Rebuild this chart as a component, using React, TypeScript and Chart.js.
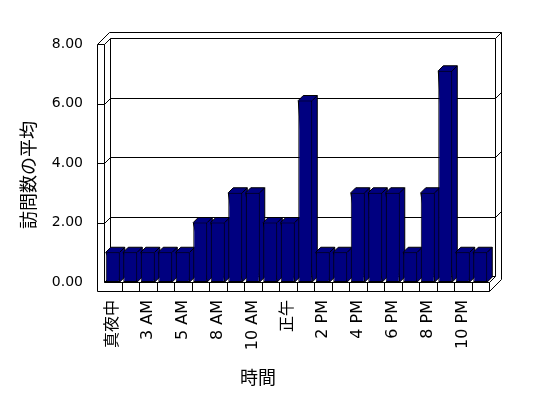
import React, { useEffect, useRef } from 'react';
import { Chart, registerables } from 'chart.js';

Chart.register(...registerables);

// ---- data ----
const categories = [
  '真夜中', '1 AM', '3 AM', '4 AM', '5 AM', '7 AM', '8 AM', '9 AM', '10 AM', '11 AM', '正午',
  '1 PM', '2 PM', '3 PM', '4 PM', '5 PM', '6 PM', '7 PM', '8 PM', '9 PM', '10 PM', '11 PM',
];
const averageVisits = [1, 1, 1, 1, 1, 2, 2, 3, 3, 2, 2, 6.1, 1, 1, 3, 3, 3, 1, 3, 7.1, 1, 1];
const yTickValues = [0, 2, 4, 6, 8];
const yTitle = '訪問数の平均';
const xTitle = '時間';

const FONT = '"DejaVu Sans", "Noto Sans CJK JP", sans-serif';
const CJK = '"Noto Sans CJK JP", "DejaVu Sans", sans-serif';
const NAVY = '#000080';
const WALL = 6; // depth offset of walls
const BAR = 5; // depth offset of bars
const LW = 7; // left wall thickness
const FL = 9; // floor thickness

const p = (v: number) => Math.round(v) + 0.5;

const frame3d = {
  id: 'frame3d',
  beforeDatasetsDraw(chart: any) {
    const { ctx, chartArea } = chart;
    const yS = chart.scales.y;
    const xS = chart.scales.x;
    const L = chartArea.left, R = chartArea.right, T = chartArea.top, Bt = chartArea.bottom;
    const D = WALL;
    ctx.save();
    ctx.lineWidth = 1;
    ctx.strokeStyle = '#000';
    ctx.fillStyle = '#fff';
    const seg = (pts: number[][]) => {
      ctx.beginPath();
      pts.forEach(([a, b], i) => (i ? ctx.lineTo(p(a), p(b)) : ctx.moveTo(p(a), p(b))));
      ctx.stroke();
    };
    // back wall front face
    seg([[L + D, T - D], [R + D, T - D], [R + D, Bt - D], [L + D, Bt - D], [L + D, T - D]]);
    // top outer edge
    seg([[L - LW, T], [L - LW + 2 * D, T - 2 * D], [R + 2 * D, T - 2 * D], [R + 2 * D, Bt - 2 * D + FL], [R, Bt + FL]]);
    seg([[R + D, T - D], [R + 2 * D, T - 2 * D]]);
    seg([[L, T], [L + D, T - D]]);
    // left wall front face
    seg([[L - LW, T], [L, T], [L, Bt], [R, Bt], [R, Bt + FL], [L - LW, Bt + FL], [L - LW, T]]);
    // floor back edges
    seg([[L, Bt], [L + D, Bt - D]]);
    seg([[R, Bt], [R + D, Bt - D]]);
    // gridlines
    yTickValues.forEach((v) => {
      if (v === 0 || v === 8) return;
      const y = yS.getPixelForValue(v);
      seg([[L - LW, y], [L, y], [L + D, y - D], [R + D, y - D], [R + 2 * D, y - 2 * D]]);
    });
    // floor cell dividers
    const n = categories.length;
    for (let i = 1; i < n; i++) {
      const xb = (xS.getPixelForValue(i - 1) + xS.getPixelForValue(i)) / 2;
      seg([[xb, Bt], [xb, Bt + FL]]);
    }
    // bar top and side faces (drawn before the front faces so neighbours overlap correctly)
    const meta = chart.getDatasetMeta(0);
    ctx.fillStyle = NAVY;
    meta.data.forEach((el: any) => {
      const xl = el.x - el.width / 2;
      const xr = el.x + el.width / 2;
      const yt = el.y;
      const yb = el.base;
      ctx.beginPath();
      ctx.moveTo(xl, yt);
      ctx.lineTo(xl + BAR, yt - BAR);
      ctx.lineTo(xr + BAR, yt - BAR);
      ctx.lineTo(xr + BAR, yb - BAR);
      ctx.lineTo(xr, yb);
      ctx.closePath();
      ctx.fill();
      ctx.stroke();
      ctx.beginPath();
      ctx.moveTo(xr, yt);
      ctx.lineTo(xr + BAR, yt - BAR);
      ctx.stroke();
    });
    ctx.restore();
  },
  afterDraw(chart: any) {
    const { ctx } = chart;
    ctx.save();
    ctx.fillStyle = '#000';
    ctx.font = `18px ${CJK}`;
    ctx.textAlign = 'center';
    ctx.textBaseline = 'middle';
    ctx.fillText(xTitle, 258, 377);
    ctx.translate(28, 175);
    ctx.rotate(-Math.PI / 2);
    ctx.fillText(yTitle, 0, 0);
    ctx.restore();
  },
};

export default function App() {
  const ref = useRef<HTMLCanvasElement | null>(null);
  useEffect(() => {
    document.body.style.margin = '0';
    const chart = new Chart(ref.current as HTMLCanvasElement, {
      type: 'bar',
      data: {
        labels: categories,
        datasets: [
          {
            data: averageVisits,
            backgroundColor: NAVY,
            borderColor: '#000',
            borderWidth: 1,
            borderSkipped: false,
            barPercentage: 0.8,
            categoryPercentage: 1,
          },
        ],
      },
      options: {
        responsive: false,
        animation: false,
        layout: { padding: { left: 0, top: 44, right: 59, bottom: 0 } },
        plugins: { legend: { display: false }, tooltip: { enabled: false }, title: { display: false } },
        scales: {
          x: {
            type: 'category',
            offset: true,
            grid: { display: false, drawTicks: false },
            border: { display: false },
            ticks: {
              autoSkip: false,
              minRotation: 90,
              maxRotation: 90,
              padding: 18,
              color: '#000',
              font: { family: FONT, size: 16 },
              callback: (_v: any, i: number) => (i % 2 === 0 ? categories[i] : ''),
            },
            afterFit: (s: any) => {
              s.height = 116;
            },
          },
          y: {
            min: 0,
            max: 8,
            grid: { display: false, drawTicks: false },
            border: { display: false },
            ticks: {
              stepSize: 2,
              padding: 21,
              color: '#000',
              font: { family: FONT, size: 14 },
              callback: (v: any) => Number(v).toFixed(2),
            },
            afterFit: (s: any) => {
              s.width = 104;
            },
          },
        },
      },
      plugins: [frame3d],
    });
    return () => chart.destroy();
  }, []);
  return (
    <div style={{ position: 'absolute', left: 0, top: 0, width: 548, height: 398, background: '#fff' }}>
      <canvas ref={ref} width={548} height={398} />
    </div>
  );
}
